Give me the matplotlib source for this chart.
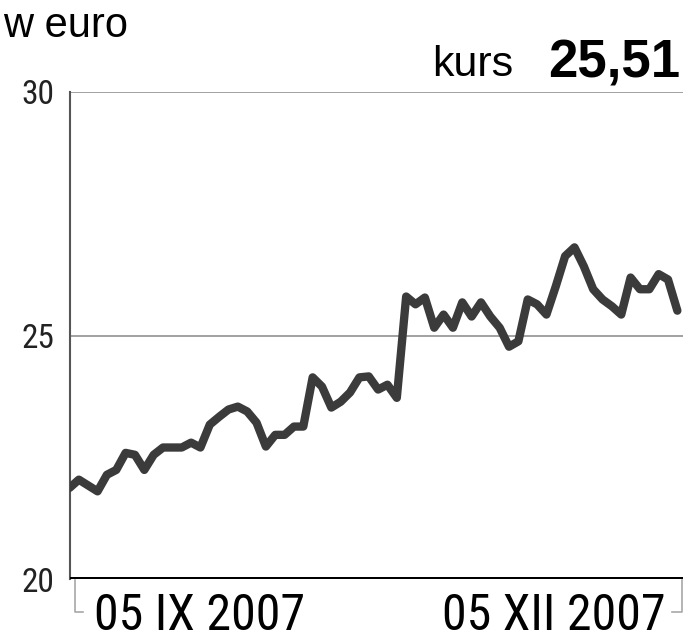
import matplotlib
matplotlib.use("Agg")
import matplotlib.pyplot as plt
from matplotlib import font_manager
from matplotlib.lines import Line2D

# ---- data ----
values = [21.87, 22.04, 21.92, 21.80, 22.14, 22.24, 22.59, 22.55, 22.24, 22.55,
          22.70, 22.70, 22.70, 22.80, 22.70, 23.17, 23.33, 23.48, 23.54, 23.44,
          23.21, 22.72, 22.96, 22.96, 23.13, 23.13, 24.14, 23.95, 23.52, 23.64,
          23.83, 24.14, 24.16, 23.89, 23.99, 23.72, 25.80, 25.64, 25.78, 25.16,
          25.43, 25.16, 25.68, 25.39, 25.68, 25.39, 25.16, 24.77, 24.88, 25.74,
          25.64, 25.43, 26.01, 26.63, 26.81, 26.42, 25.95, 25.74, 25.60,
          25.43, 26.19, 25.95, 25.95, 26.26, 26.15, 25.51]
y_ticks = [20, 25, 30]
y_tick_labels = ["20", "25", "30"]
x_labels = ["05 IX 2007", "05 XII 2007"]
unit_label = "w euro"
kurs_label = "kurs"
kurs_value = "25,51"

avail = {f.name for f in font_manager.fontManager.ttflist}
def pick(*names):
    for n in names:
        if n in avail:
            return n
    return "DejaVu Sans"
COND = pick("Roboto Condensed", "Liberation Sans Narrow", "Liberation Sans")
SANS = pick("Liberation Sans", "Arimo", "DejaVu Sans")

fig = plt.figure(figsize=(6.85, 6.4), dpi=100)
ax = fig.add_axes([69.5 / 685, 61 / 640, 613 / 685, 487 / 640])

xs = list(range(len(values)))
ax.plot(xs, values, color="#3b3b3b", lw=6, solid_joinstyle="round",
        solid_capstyle="round", zorder=3)

ax.set_xlim(0, len(values) - 0.45)
ax.set_ylim(20, 30)
for yv in y_ticks[1:]:
    ax.axhline(yv, color="#9a9a9a", lw=1.3, zorder=1)
ax.axhline(20, color="black", lw=3.6, zorder=4)

for s in ["top", "right", "bottom"]:
    ax.spines[s].set_visible(False)
ax.spines["left"].set_color("#555555")
ax.spines["left"].set_linewidth(1.5)
ax.set_xticks([])
ax.set_yticks(y_ticks)
ax.set_yticklabels(y_tick_labels, fontfamily=COND, fontsize=24, color="#222222")
ax.tick_params(axis="y", length=0, pad=11)

# x labels with bracket ticks (figure pixel helpers)
def fx(px):
    return px / 685
def fy(py):
    return 1 - py / 640
bc = "#a8a8a8"
fig.add_artist(Line2D([fx(75), fx(75), fx(83)], [fy(580), fy(612), fy(612)],
                      color=bc, lw=1.2))
fig.add_artist(Line2D([fx(681.5), fx(681.5), fx(672)], [fy(580), fy(612), fy(612)],
                      color=bc, lw=1.2))
fig.text(fx(94), 0.0, x_labels[0], fontfamily=COND, fontsize=36,
         ha="left", va="bottom", color="black")
fig.text(fx(666), 0.0, x_labels[1], fontfamily=COND, fontsize=36,
         ha="right", va="bottom", color="black")

fig.text(fx(3), fy(37), unit_label, fontfamily=SANS, fontsize=30,
         ha="left", va="baseline", color="black")
fig.text(fx(513), fy(76), kurs_label, fontfamily=SANS, fontsize=31,
         ha="right", va="baseline", color="black")
fig.text(fx(680), fy(77), kurs_value, fontfamily=SANS, fontsize=38,
         fontweight="bold", ha="right", va="baseline", color="black")

fig.savefig("out.png", dpi=100)
